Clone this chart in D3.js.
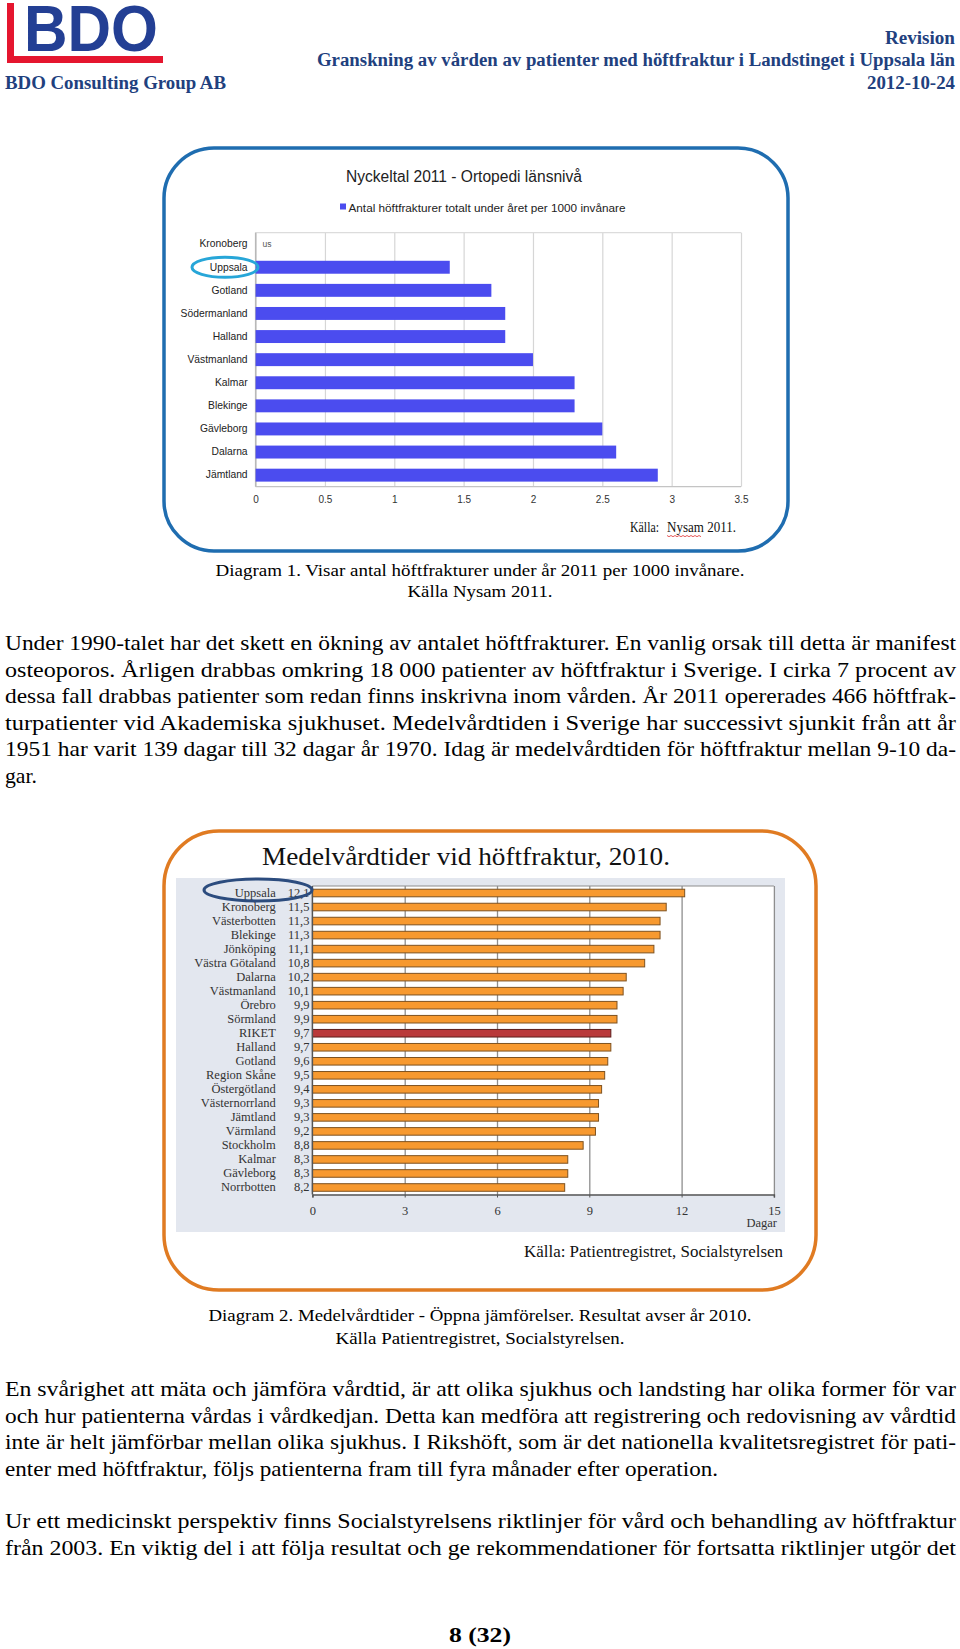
<!DOCTYPE html>
<html lang="sv">
<head>
<meta charset="UTF-8">
<title>Granskning av vården av patienter med höftfraktur - sida 8</title>
<script src="https://d3js.org/d3.v7.min.js"></script>
<style>
  body { margin: 0; padding: 0; background: #ffffff; }
  svg { display: block; }
  .serif { font-family: "Liberation Serif", "Times New Roman", serif; }
  .sans { font-family: "Liberation Sans", Arial, sans-serif; }
</style>
</head>
<body>
<div id="page"></div>
<script>
// ---- Diagram 1: Nyckeltal 2011, antal höftfrakturer per 1000 invånare ----
var lan2011 = ["Kronoberg", "Uppsala", "Gotland", "Södermanland", "Halland", "Västmanland",
               "Kalmar", "Blekinge", "Gävleborg", "Dalarna", "Jämtland"];
var frakturer2011 = [null, 1.4, 1.7, 1.8, 1.8, 2.0, 2.3, 2.3, 2.5, 2.6, 2.9];
var ticks2011 = [0, 0.5, 1, 1.5, 2, 2.5, 3, 3.5];

// ---- Diagram 2: Medelvårdtider vid höftfraktur 2010 (dagar) ----
var lan2010 = ["Uppsala", "Kronoberg", "Västerbotten", "Blekinge", "Jönköping", "Västra Götaland",
               "Dalarna", "Västmanland", "Örebro", "Sörmland", "RIKET", "Halland", "Gotland",
               "Region Skåne", "Östergötland", "Västernorrland", "Jämtland", "Värmland",
               "Stockholm", "Kalmar", "Gävleborg", "Norrbotten"];
var vardtid2010 = [12.1, 11.5, 11.3, 11.3, 11.1, 10.8, 10.2, 10.1, 9.9, 9.9, 9.7, 9.7, 9.6,
                   9.5, 9.4, 9.3, 9.3, 9.2, 8.8, 8.3, 8.3, 8.2];
var ticks2010 = [0, 3, 6, 9, 12, 15];

var W = 960, H = 1649;
var svg = d3.select("#page").append("svg")
    .attr("width", W)
    .attr("height", H);

svg.append("rect").attr("width", W).attr("height", H).attr("fill", "#ffffff");

// helper for a line of text, optionally squeezed/stretched to a given width
function textLine(g, str, x, y, opt) {
    var t = g.append("text")
        .attr("x", x)
        .attr("y", y)
        .attr("class", opt.cls || "serif")
        .attr("font-size", opt.size)
        .attr("fill", opt.fill || "#000")
        .attr("text-anchor", opt.anchor || "start")
        .text(str);
    if (opt.bold) t.attr("font-weight", "bold");
    if (opt.width) t.attr("textLength", opt.width).attr("lengthAdjust", "spacingAndGlyphs");
    return t;
}

// ---------------- header ----------------
var head = svg.append("g");
head.append("rect").attr("x", 7).attr("y", 3).attr("width", 7).attr("height", 60).attr("fill", "#e5162f");
head.append("rect").attr("x", 7).attr("y", 56).attr("width", 156).attr("height", 7).attr("fill", "#e5162f");
textLine(head, "BDO", 24, 51, { cls: "sans", size: 65, bold: true, fill: "#233f94", width: 134 });
textLine(head, "BDO Consulting Group AB", 5, 89, { size: 19.5, bold: true, fill: "#21407e", width: 221 });
textLine(head, "Revision", 955 - 70, 44, { size: 19, bold: true, fill: "#21407e", width: 70 });
textLine(head, "Granskning av vården av patienter med höftfraktur i Landstinget i Uppsala län", 955 - 638, 66,
    { size: 18, bold: true, fill: "#21407e", width: 638 });
textLine(head, "2012-10-24", 955 - 88, 89, { size: 19, bold: true, fill: "#21407e", width: 88 });

// ---------------- diagram 1 ----------------
var c1 = svg.append("g");
c1.append("rect")
    .attr("x", 164).attr("y", 148).attr("width", 624).attr("height", 403)
    .attr("rx", 50).attr("ry", 50)
    .attr("fill", "#ffffff").attr("stroke", "#1f6db0").attr("stroke-width", 3.5);

textLine(c1, "Nyckeltal 2011  -  Ortopedi länsnivå", 464, 182,
    { cls: "sans", size: 16, anchor: "middle", fill: "#222", width: 236 });
c1.append("rect").attr("x", 340).attr("y", 203.5).attr("width", 6).attr("height", 6).attr("fill", "#4b4cef");
textLine(c1, "Antal höftfrakturer totalt under året per 1000 invånare", 348.5, 211.5,
    { cls: "sans", size: 11.6, fill: "#222", width: 277 });

var p1 = { left: 255.6, right: 741, top: 232.6, bottom: 486.7 };
var x1 = d3.scaleLinear().domain([0, 3.5]).range([p1.left, p1.right]);
var y1 = d3.scaleBand().domain(lan2011).range([p1.top, p1.bottom]).paddingInner(0.44).paddingOuter(0.22);

// grid lines
c1.append("g")
    .attr("transform", "translate(0," + p1.bottom + ")")
    .call(d3.axisBottom(x1).tickValues(ticks2011).tickSize(-(p1.bottom - p1.top)).tickFormat(""))
    .call(function (g) {
        g.select(".domain").remove();
        g.selectAll("line").attr("stroke", "#d6d6d6").attr("stroke-width", 1.2);
    });
c1.append("line").attr("x1", p1.left).attr("x2", p1.right).attr("y1", p1.top).attr("y2", p1.top)
    .attr("stroke", "#dcdcdc").attr("stroke-width", 1.2);
c1.append("line").attr("x1", p1.left).attr("x2", p1.right).attr("y1", p1.bottom).attr("y2", p1.bottom)
    .attr("stroke", "#c4c4c4").attr("stroke-width", 1.2);
c1.append("line").attr("x1", p1.left).attr("x2", p1.left).attr("y1", p1.top).attr("y2", p1.bottom)
    .attr("stroke", "#b8b8b8").attr("stroke-width", 1.4);

// bars
c1.selectAll(".bar1")
    .data(lan2011.filter(function (d, i) { return frakturer2011[i] != null; }))
    .enter().append("rect")
    .attr("class", "bar1")
    .attr("x", x1(0))
    .attr("y", function (d) { return y1(d); })
    .attr("height", y1.bandwidth())
    .attr("width", function (d) { return x1(frakturer2011[lan2011.indexOf(d)]) - x1(0); })
    .attr("fill", "#4b4cef");

// "us" = uppgift saknas
lan2011.forEach(function (d, i) {
    if (frakturer2011[i] == null) {
        textLine(c1, "us", x1(0) + 7, y1(d) + y1.bandwidth() / 2 + 3,
            { cls: "sans", size: 8.5, fill: "#555" });
    }
});

// x labels
c1.append("g")
    .attr("transform", "translate(0," + p1.bottom + ")")
    .call(d3.axisBottom(x1).tickValues(ticks2011).tickSize(0).tickPadding(9).tickFormat(d3.format("~g")))
    .call(function (g) {
        g.select(".domain").remove();
        g.selectAll("text").attr("class", "sans").attr("font-size", 10).attr("fill", "#333");
    });

// category labels
c1.append("g")
    .attr("transform", "translate(" + p1.left + ",0)")
    .call(d3.axisLeft(y1).tickSize(0).tickPadding(8))
    .call(function (g) {
        g.select(".domain").remove();
        g.selectAll("text").attr("class", "sans").attr("font-size", 10.3).attr("fill", "#222");
    });

// ring round Uppsala
c1.append("ellipse")
    .attr("cx", 225).attr("cy", y1("Uppsala") + y1.bandwidth() / 2)
    .attr("rx", 33).attr("ry", 10)
    .attr("fill", "none").attr("stroke", "#27a6d8").attr("stroke-width", 3);

textLine(c1, "Källa:", 630, 532, { size: 15, fill: "#111", width: 29 });
textLine(c1, "Nysam 2011.", 667, 532, { size: 15, fill: "#111", width: 69 });
c1.append("path")
    .attr("d", d3.range(0, 36, 2).map(function (d, i) {
        return (i ? "L" : "M") + (667 + d) + "," + (535.5 + (i % 2 ? 1.2 : 0));
    }).join(""))
    .attr("fill", "none").attr("stroke", "#e03030").attr("stroke-width", 0.8);

// caption 1
textLine(svg, "Diagram 1. Visar antal höftfrakturer under år 2011 per 1000 invånare.", 480, 575.5,
    { size: 17.5, anchor: "middle", width: 529 });
textLine(svg, "Källa Nysam 2011.", 480, 597, { size: 17.5, anchor: "middle", width: 145 });

// ---------------- paragraph 1 ----------------
var bodySize = 22;
var para1 = [
    "Under 1990-talet har det skett en ökning av antalet höftfrakturer. En vanlig orsak till detta är manifest",
    "osteoporos. Årligen drabbas omkring 18 000 patienter av höftfraktur i Sverige. I cirka 7 procent av",
    "dessa fall drabbas patienter som redan finns inskrivna inom vården. År 2011 opererades 466 höftfrak-",
    "turpatienter vid Akademiska sjukhuset. Medelvårdtiden i Sverige har successivt sjunkit från att år",
    "1951 har varit 139 dagar till 32 dagar år 1970. Idag är medelvårdtiden för höftfraktur mellan 9-10 da-"
];
para1.forEach(function (s, i) {
    textLine(svg, s, 5, 650 + i * 26.5, { size: bodySize, width: 951 });
});
textLine(svg, "gar.", 5, 650 + 5 * 26.5, { size: bodySize, width: 32 });

// ---------------- diagram 2 ----------------
var c2 = svg.append("g");
c2.append("rect")
    .attr("x", 164).attr("y", 831).attr("width", 652).attr("height", 459)
    .attr("rx", 55).attr("ry", 55)
    .attr("fill", "#ffffff").attr("stroke", "#e07b22").attr("stroke-width", 3.5);

textLine(c2, "Medelvårdtider vid höftfraktur, 2010.", 466, 865,
    { size: 25, anchor: "middle", fill: "#111", width: 408 });

c2.append("rect").attr("x", 176).attr("y", 878).attr("width", 609).attr("height", 354).attr("fill", "#e3e7ef");

var p2 = { left: 312.4, right: 773.9, top: 886, bottom: 1194.5 };
c2.append("rect").attr("x", p2.left).attr("y", p2.top)
    .attr("width", p2.right - p2.left).attr("height", p2.bottom - p2.top).attr("fill", "#ffffff");

var x2 = d3.scaleLinear().domain([0, 15]).range([p2.left, p2.right]);
var y2 = d3.scaleBand().domain(lan2010).range([p2.top, p2.bottom]).paddingInner(0.46).paddingOuter(0.23);

c2.append("g")
    .attr("transform", "translate(0," + p2.bottom + ")")
    .call(d3.axisBottom(x2).tickValues(ticks2010.slice(1)).tickSize(-(p2.bottom - p2.top)).tickFormat(""))
    .call(function (g) {
        g.select(".domain").remove();
        g.selectAll("line").attr("stroke", "#8e8e8e").attr("stroke-width", 1.3);
    });
c2.append("line").attr("x1", p2.left).attr("x2", p2.right).attr("y1", p2.top).attr("y2", p2.top)
    .attr("stroke", "#8e8e8e").attr("stroke-width", 1.2);

c2.selectAll(".bar2")
    .data(lan2010)
    .enter().append("rect")
    .attr("class", "bar2")
    .attr("x", x2(0))
    .attr("y", function (d) { return y2(d); })
    .attr("height", y2.bandwidth())
    .attr("width", function (d, i) { return x2(vardtid2010[i]) - x2(0); })
    .attr("fill", function (d) { return d === "RIKET" ? "#b9393a" : "#f7992f"; })
    .attr("stroke", function (d) { return d === "RIKET" ? "#5e1f1c" : "#7e5220"; })
    .attr("stroke-width", 1);

// axes
c2.append("g")
    .attr("transform", "translate(0," + p2.bottom + ")")
    .call(d3.axisBottom(x2).tickValues(ticks2010).tickSize(3).tickPadding(9))
    .call(function (g) {
        g.select(".domain").attr("stroke", "#555").attr("stroke-width", 1.5);
        g.selectAll("line").attr("stroke", "#555");
        g.selectAll("text").attr("class", "serif").attr("font-size", 12.5).attr("fill", "#333");
    });
c2.append("line").attr("x1", p2.left).attr("x2", p2.left).attr("y1", p2.top).attr("y2", p2.bottom)
    .attr("stroke", "#555").attr("stroke-width", 1.5);

var lab2 = c2.append("g").attr("class", "serif").attr("font-size", 12.5).attr("fill", "#333");
lan2010.forEach(function (d, i) {
    var cy = y2(d) + y2.bandwidth() / 2 + 4;
    lab2.append("text").attr("x", 275.8).attr("y", cy).attr("text-anchor", "end").text(d);
    lab2.append("text").attr("x", 309.5).attr("y", cy).attr("text-anchor", "end")
        .text(vardtid2010[i].toFixed(1).replace(".", ","));
});

c2.append("ellipse")
    .attr("cx", 258).attr("cy", y2("Uppsala") + y2.bandwidth() / 2 - 3)
    .attr("rx", 54).attr("ry", 11)
    .attr("fill", "none").attr("stroke", "#2c4c7e").attr("stroke-width", 3);

textLine(c2, "Dagar", 777, 1227, { size: 12.5, anchor: "end", fill: "#333" });
textLine(c2, "Källa:  Patientregistret, Socialstyrelsen", 783, 1257,
    { size: 17, anchor: "end", fill: "#111", width: 259 });

// caption 2
textLine(svg, "Diagram 2. Medelvårdtider - Öppna jämförelser. Resultat avser år 2010.", 480, 1320.5,
    { size: 17.5, anchor: "middle", width: 543 });
textLine(svg, "Källa Patientregistret, Socialstyrelsen.", 480, 1343.5,
    { size: 17.5, anchor: "middle", width: 289 });

// ---------------- paragraph 2 and 3 ----------------
var para2 = [
    "En svårighet att mäta och jämföra vårdtid, är att olika sjukhus och landsting har olika former för var",
    "och hur patienterna vårdas i vårdkedjan. Detta kan medföra att registrering och redovisning av vårdtid",
    "inte är helt jämförbar mellan olika sjukhus. I Rikshöft, som är det nationella kvalitetsregistret för pati-"
];
para2.forEach(function (s, i) {
    textLine(svg, s, 5, 1396 + i * 26.5, { size: bodySize, width: 951 });
});
textLine(svg, "enter med höftfraktur, följs patienterna fram till fyra månader efter operation.", 5, 1396 + 3 * 26.5,
    { size: bodySize, width: 713 });

var para3 = [
    "Ur ett medicinskt perspektiv finns Socialstyrelsens riktlinjer för vård och behandling av höftfraktur",
    "från 2003. En viktig del i att följa resultat och ge rekommendationer för fortsatta riktlinjer utgör det"
];
para3.forEach(function (s, i) {
    textLine(svg, s, 5, 1528 + i * 26.5, { size: bodySize, width: 951 });
});

// page number
textLine(svg, "8 (32)", 480, 1642, { size: 22, bold: true, anchor: "middle", width: 62 });
</script>
</body>
</html>
